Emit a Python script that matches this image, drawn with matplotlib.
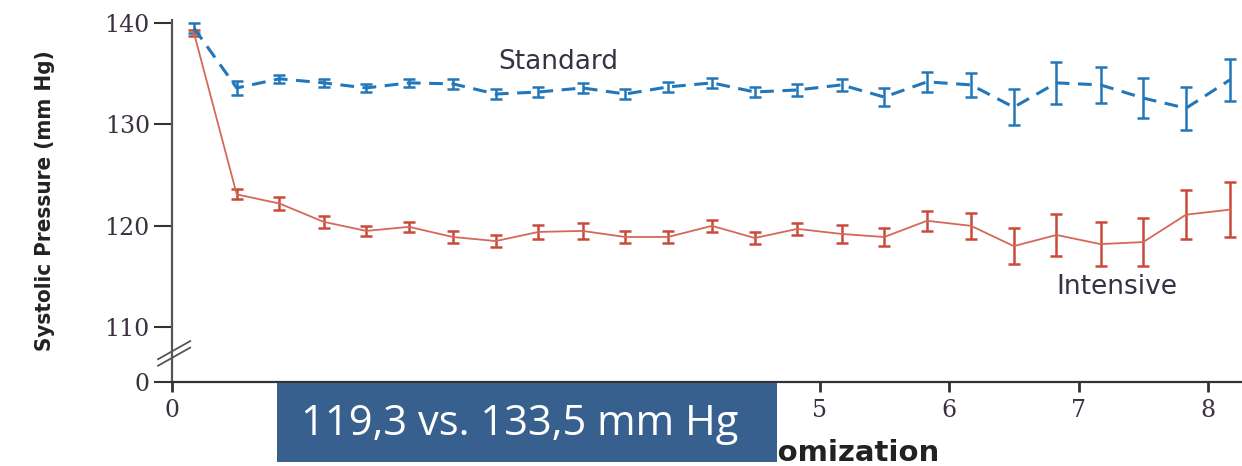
# -*- coding: utf-8 -*-
"""
Systolic pressure over time, intensive vs standard treatment
"""

import matplotlib
matplotlib.use('Agg')
import matplotlib.pyplot as plt
from matplotlib.patches import Rectangle

# Data
years = [0.17, 0.5, 0.83, 1.17, 1.5, 1.83, 2.17, 2.5, 2.83, 3.17, 3.5, 3.83,
         4.17, 4.5, 4.83, 5.17, 5.5, 5.83, 6.17, 6.5, 6.83, 7.17, 7.5, 7.83, 8.17]

standard = [139.5, 133.6, 134.5, 134.1, 133.6, 134.1, 134.0, 133.0, 133.2, 133.6,
            133.0, 133.7, 134.1, 133.2, 133.4, 133.9, 132.7, 134.2, 133.9, 131.7,
            134.1, 133.9, 132.6, 131.6, 134.4]
standard_err = [0.5, 0.7, 0.4, 0.4, 0.4, 0.4, 0.5, 0.5, 0.5, 0.5, 0.5, 0.5, 0.5,
                0.5, 0.6, 0.6, 0.9, 1.0, 1.2, 1.8, 2.1, 1.8, 2.0, 2.1, 2.1]

intensive = [139.0, 123.1, 122.2, 120.4, 119.5, 119.9, 118.9, 118.5, 119.4, 119.5,
             118.9, 118.9, 120.0, 118.8, 119.7, 119.2, 118.9, 120.5, 120.0, 118.0,
             119.1, 118.2, 118.4, 121.1, 121.6]
intensive_err = [0.3, 0.5, 0.6, 0.6, 0.5, 0.5, 0.6, 0.6, 0.7, 0.8, 0.6, 0.6, 0.6,
                 0.6, 0.6, 0.85, 0.9, 1.0, 1.3, 1.8, 2.1, 2.2, 2.4, 2.4, 2.7]

x_ticks = [0, 1, 2, 3, 4, 5, 6, 7, 8]
x_tick_labels = ['0', '', '', '', '', '5', '6', '7', '8']   # 1-4 are hidden under the box
y_ticks = [104.6, 110, 120, 130, 140]      # bottom tick stands for the broken "0"
y_tick_labels = ['0', '110', '120', '130', '140']

box_text = '119,3 vs. 133,5 mm Hg'

col_std = '#2277bb'
col_int = '#c94a3a'
col_axis = '#333333'

W, H = 1242, 466
fig = plt.figure(figsize=(W / 100, H / 100), dpi=100)
ax = fig.add_axes([172 / W, 1 - 382 / H, 1 - 172 / W, (382 - 20) / H])

# Standard: dashed blue
ax.errorbar(years, standard, yerr=standard_err, color=col_std, linestyle=(0, (4.5, 2.8)),
            linewidth=2.2, elinewidth=1.8, capsize=4, capthick=1.8, zorder=3)
# Intensive: solid red, thin line
ax.errorbar(years, intensive, yerr=intensive_err, color='#d4685a', ecolor=col_int,
            linestyle='-', linewidth=1.3, elinewidth=1.8, capsize=4, capthick=1.8, zorder=3)

ax.set_xlim(0, (W - 172) / 129.5)
ax.set_ylim(104.6, 140.3)

ax.set_xticks(x_ticks)
ax.set_xticklabels(x_tick_labels)
ax.set_yticks(y_ticks)
ax.set_yticklabels(y_tick_labels)

for s in ['top', 'right']:
    ax.spines[s].set_visible(False)
ax.spines['left'].set_color('#555555')
ax.spines['left'].set_linewidth(1.6)
ax.spines['bottom'].set_color(col_axis)
ax.spines['bottom'].set_linewidth(1.6)

ax.tick_params(axis='y', direction='out', length=13, width=1.5, color=col_axis, pad=3,
               labelsize=17, labelcolor='#3a3040')
ax.tick_params(axis='x', direction='out', length=7, width=2, color=col_axis, pad=5,
               labelsize=17, labelcolor='#3a3040')
for lab in ax.get_xticklabels() + ax.get_yticklabels():
    lab.set_family('DejaVu Serif')

# Axis break marks
for dy in [0.0, 0.018]:
    ax.plot([-0.013, 0.017], [0.045 + dy, 0.095 + dy], transform=ax.transAxes,
            color='#555555', linewidth=1.3, clip_on=False)

ax.set_ylabel('Systolic Pressure (mm Hg)', fontsize=16, fontweight='bold',
              family='DejaVu Sans', fontstretch='condensed', color='#222222')
ax.yaxis.set_label_coords(-0.109, 0.5)
ax.set_xlabel('Years since Randomization', fontsize=21, fontweight='bold',
              color='#222222', ha='right')
ax.xaxis.set_label_coords((940 - 172) / (W - 172), -0.158)

ax.text(2.52, 134.9, 'Standard', fontsize=19, color='#333344', ha='left', va='bottom')
ax.text(6.83, 112.7, 'Intensive', fontsize=19, color='#333344', ha='left', va='bottom')

# Overlaid blue box
fig.patches.append(Rectangle((277 / W, 1 - 462 / H), 500 / W, 79 / H,
                             transform=fig.transFigure, facecolor='#37608f',
                             edgecolor='none', zorder=10))
fig.text(520 / W, 1 - 424 / H, box_text, fontsize=30, family='Open Sans',
         color='white', ha='center', va='center', zorder=11)

fig.savefig('out.png', dpi=100)
